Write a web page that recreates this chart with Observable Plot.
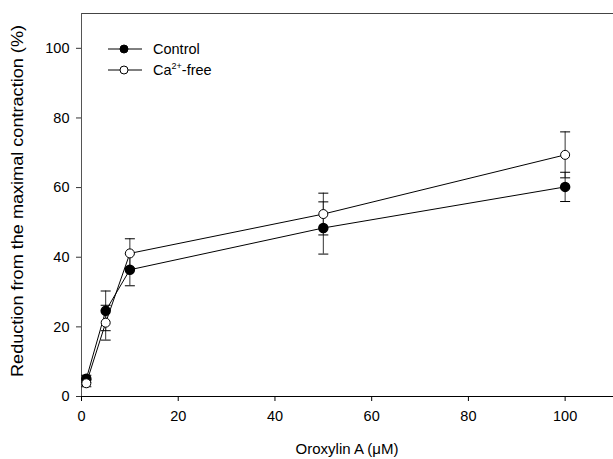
<!DOCTYPE html>
<html><head><meta charset="utf-8">
<script src="https://cdn.jsdelivr.net/npm/d3@7"></script>
<script src="https://cdn.jsdelivr.net/npm/@observablehq/plot@0.6"></script>
<style>
body{margin:0;background:#fff}
#chart svg{font-family:"Liberation Sans",Arial,sans-serif;overflow:visible}
#chart svg g[aria-label$="tick label"] text{font-size:14.5px}
</style>
</head><body><div id="chart"></div>
<script>
const concentrations = [1, 5, 10, 50, 100];
const controlMean = [5.1, 24.6, 36.4, 48.4, 60.2];
const controlSE = [1.0, 5.7, 4.6, 7.5, 4.2];
const caFreeMean = [3.8, 21.2, 41.1, 52.4, 69.4];
const caFreeSE = [1.0, 5.0, 4.2, 6.0, 6.6];
const xTicks = [0, 20, 40, 60, 80, 100];
const yTicks = [0, 20, 40, 60, 80, 100];
const seriesNames = ["Control", "Ca-free"];
const xLabel = "Oroxylin A (\u03BCM)";
const yLabel = "Reduction from the maximal contraction (%)";

const rows = [];
concentrations.forEach((c, i) => {
  rows.push({series: seriesNames[0], x: c, y: controlMean[i], se: controlSE[i]});
  rows.push({series: seriesNames[1], x: c, y: caFreeMean[i], se: caFreeSE[i]});
});
const ctrl = rows.filter(d => d.series === seriesNames[0]);
const free = rows.filter(d => d.series === seriesNames[1]);

const capSymbol = {draw(ctx, size) { const w = Math.sqrt(size / Math.PI); ctx.moveTo(-w, 0); ctx.lineTo(w, 0); }};

const W = 613, H = 459;
const plot = Plot.plot({
  width: W, height: H,
  marginLeft: 81, marginRight: 0, marginTop: 13, marginBottom: 63,
  style: {fontFamily: "Liberation Sans, Arial, sans-serif", fontSize: "14.5px", color: "#000", background: "#fff"},
  x: {domain: [0, 110]},
  y: {domain: [0, 110]},
  marks: [
    Plot.ruleY([110], {stroke: "#444"}),
    Plot.ruleX([0], {stroke: "#555"}),
    Plot.ruleY([0], {stroke: "#000"}),
    Plot.axisY({ticks: yTicks, tickSize: 5, tickPadding: 7, label: null, stroke: "#333"}),
    Plot.axisX({ticks: xTicks, tickSize: 5, tickPadding: 9, label: null, stroke: "#000"}),
    Plot.line(ctrl, {x: "x", y: "y", stroke: "#000", strokeWidth: 1}),
    Plot.line(free, {x: "x", y: "y", stroke: "#000", strokeWidth: 1}),
    Plot.ruleX(rows, {x: "x", y1: d => d.y - d.se, y2: d => d.y + d.se, stroke: "#333", strokeWidth: 1}),
    Plot.dot(rows, {x: "x", y: d => d.y - d.se, symbol: capSymbol, r: 5, stroke: "#000", fill: "none", strokeWidth: 1}),
    Plot.dot(rows, {x: "x", y: d => d.y + d.se, symbol: capSymbol, r: 5, stroke: "#000", fill: "none", strokeWidth: 1}),
    Plot.dot(ctrl, {x: "x", y: "y", r: 4.5, fill: "#000", stroke: "#000"}),
    Plot.dot(free, {x: "x", y: "y", r: 4.5, fill: "#fff", stroke: "#000", strokeWidth: 1})
  ]
});
document.getElementById("chart").appendChild(plot);

const svg = d3.select(plot);
// axis titles
svg.append("text").attr("x", 347).attr("y", 454).attr("text-anchor", "middle")
  .attr("font-size", 15).attr("fill", "#000").text(xLabel);
svg.append("text").attr("transform", "translate(23,201) rotate(-90)").attr("text-anchor", "middle")
  .attr("font-size", 16.5).attr("fill", "#000")
  .attr("textLength", 352).attr("lengthAdjust", "spacingAndGlyphs").text(yLabel);

// legend
const lg = svg.append("g").attr("transform", "translate(108,49)");
[0, 1].forEach(i => {
  const g = lg.append("g").attr("transform", `translate(0,${i * 21})`);
  g.append("line").attr("x1", 0).attr("x2", 34).attr("y1", 0).attr("y2", 0).attr("stroke", "#000");
  g.append("circle").attr("cx", 16).attr("cy", 0).attr("r", 4)
    .attr("fill", i === 0 ? "#000" : "#fff").attr("stroke", "#000");
  const t = g.append("text").attr("x", 45).attr("y", 5).attr("font-size", 14.5)
    .attr("text-anchor", "start").attr("fill", "#000");
  if (i === 0) t.text(seriesNames[0]);
  else {
    t.append("tspan").text("Ca");
    t.append("tspan").attr("font-size", 9).attr("dy", -6).text("2+");
    t.append("tspan").attr("dy", 6).text("-free");
  }
});
</script>
</body></html>
